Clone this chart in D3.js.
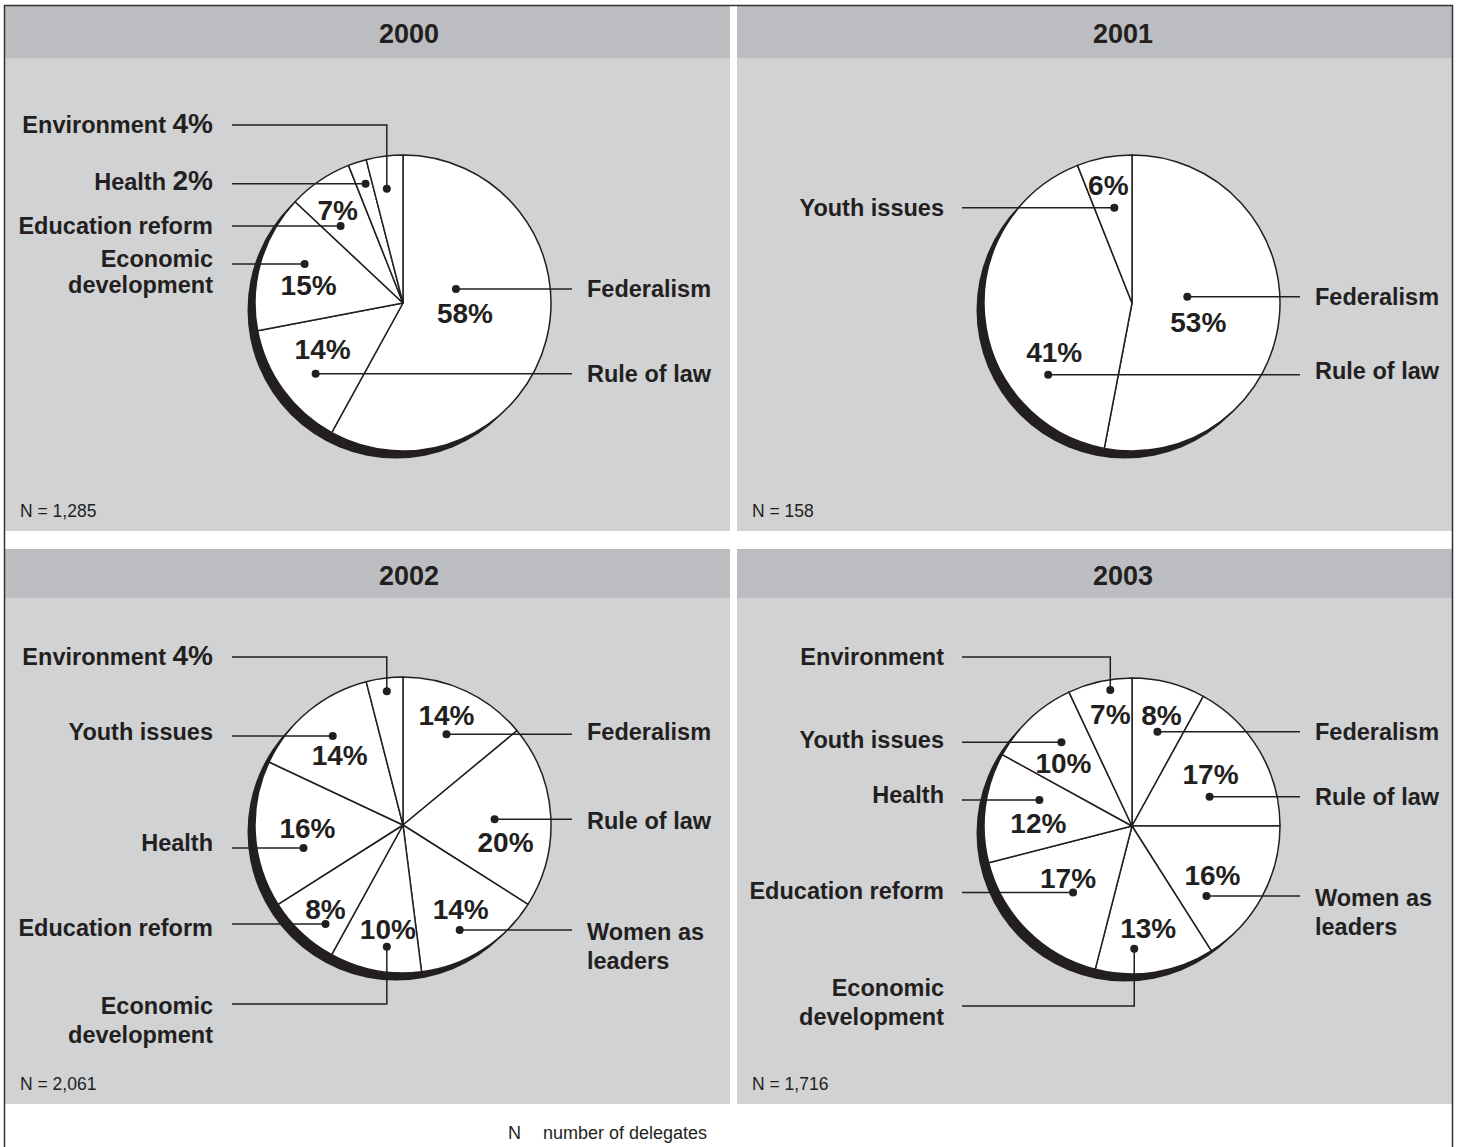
<!DOCTYPE html>
<html>
<head>
<meta charset="utf-8">
<script src="https://cdn.jsdelivr.net/npm/d3@7"></script>
<style>
  body { margin: 0; background: #fff; }
  svg { display: block; }
</style>
</head>
<body>
<div id="chart"></div>
<script>
// data
const years = ["2000", "2001", "2002", "2003"]
const sampleSizes = ["1,285", "158", "2,061", "1,716"]

const categories2000 = ["Federalism", "Rule of law", "Economic development", "Education reform", "Health", "Environment"]
const values2000 = [58, 14, 15, 7, 2, 4]

const categories2001 = ["Federalism", "Rule of law", "Youth issues"]
const values2001 = [53, 41, 6]

const categories2002 = ["Federalism", "Rule of law", "Women as leaders", "Economic development", "Education reform", "Health", "Youth issues", "Environment"]
const values2002 = [14, 20, 14, 10, 8, 16, 14, 4]

const categories2003 = ["Federalism", "Rule of law", "Women as leaders", "Economic development", "Education reform", "Health", "Youth issues", "Environment"]
const values2003 = [8, 17, 16, 13, 17, 12, 10, 7]

const allCategories = [categories2000, categories2001, categories2002, categories2003]
const allValues = [values2000, values2001, values2002, values2003]

// where each label line breaks
const lineBreaks = {
    "Economic development": ["Economic", "development"],
    "Women as leaders": ["Women as", "leaders"]
}

// layout: panels and callouts (t = position along slice, f = fraction of radius,
// pdx/pdy = percent label offset from dot, side = how the leader goes)
const W = 1458, H = 1147
const colX = [5, 737], colW = [725, 715]
const rowY = [6, 549], rowH = [525, 555], headH = [52, 49]
const titleX = [409, 1123]
const rightLineEnd = [572, 1300], rightTextX = [587, 1315]
const leftTextEnd = [213, 944], leftLineStart = [232, 962]
const radius = 148
const pieCenter = [[403, 303], [1132, 303], [403, 825], [1132, 826]]

const callouts = [
    [
        {t: .36, f: .37, pdx: 9, pdy: 24, side: "right"},
        {t: .44, f: .76, pdx: 7, pdy: -25, side: "right"},
        {t: .60, f: .715, pdx: 4, pdy: 21, side: "left", tdy: -5, gap: 26},
        {t: .31, f: .67, pdx: -3, pdy: -16, side: "left"},
        {t: .58, f: .845, side: "left", pctInLabel: true, tdy: -2},
        {t: .44, f: .78, side: "elbow", ly: 125, pctInLabel: true}
    ],
    [
        {t: .438, f: .376, pdx: 11, pdy: 25, side: "right"},
        {t: .262, f: .745, pdx: 6, pdy: -23, side: "right", tdy: -4},
        {t: .514, f: .655, pdx: -6, pdy: -23, side: "left"}
    ],
    [
        {t: .508, f: .68, pdx: 0, pdy: -19, side: "right", tdy: -2},
        {t: .50, f: .62, pdx: 11, pdy: 23, side: "right", tdy: 2},
        {t: .58, f: .806, pdx: 1, pdy: -21, side: "right", tdy: 2, gap: 29},
        {t: .41, f: .83, pdx: 1, pdy: -18, side: "elbow", ly: 1004, tdy: 2, gap: 29},
        {t: .32, f: .85, pdx: 0, pdy: -15, side: "left", tdy: 4},
        {t: .337, f: .69, pdx: 4, pdy: -20, side: "left", tdy: -5},
        {t: .526, f: .766, pdx: 7, pdy: 19, side: "left", tdy: -4},
        {t: .52, f: .91, side: "elbow", ly: 657, pctInLabel: true}
    ],
    [
        {t: .524, f: .66, pdx: 4, pdy: -17, side: "right"},
        {t: .663, f: .56, pdx: 1, pdy: -23, side: "right"},
        {t: .75, f: .69, pdx: 6, pdy: -21, side: "right", tdy: 2, gap: 29},
        {t: .67, f: .83, pdx: 14, pdy: -21, side: "elbow", ly: 1006, tdy: -18, gap: 29},
        {t: .444, f: .60, pdx: -5, pdy: -15, side: "left", tdy: -2},
        {t: .697, f: .65, pdx: -1, pdy: 23, side: "left", tdy: -5},
        {t: .586, f: .74, pdx: 2, pdy: 21, side: "left", tdy: -2},
        {t: .64, f: .93, pdx: 0, pdy: 24, side: "elbow", ly: 657}
    ]
]

const ink = "#231f20"
const headFill = "#bcbdc0"
const bodyFill = "#d1d2d4"
const labelFont = 23.5, pctFont = 28

const svg = d3.select("#chart").append("svg")
    .attr("width", W)
    .attr("height", H)
    .style("font-family", "'Liberation Sans', Arial, Helvetica, sans-serif")

const pie = d3.pie().sort(null).value(d => d)
const arc = d3.arc().innerRadius(0).outerRadius(radius)

function polar(a, r) {
    return [r * Math.sin(a), -r * Math.cos(a)]
}

years.forEach((year, i) => {
    let col = i % 2, row = Math.floor(i / 2)
    let px = colX[col], py = rowY[row]
    let g = svg.append("g")

    g.append("rect")
        .attr("x", px).attr("y", py)
        .attr("width", colW[col]).attr("height", rowH[row])
        .attr("fill", bodyFill)
    g.append("rect")
        .attr("x", px).attr("y", py)
        .attr("width", colW[col]).attr("height", headH[row])
        .attr("fill", headFill)
    g.append("text")
        .attr("x", titleX[col])
        .attr("y", py + headH[row] / 2 + 3 + 0.35 * 24)
        .attr("text-anchor", "middle")
        .attr("font-family", "'Liberation Sans Narrow', 'Liberation Sans', sans-serif")
        .attr("font-weight", "bold")
        .attr("font-size", 27)
        .attr("fill", ink)
        .text(year)

    g.append("text")
        .attr("x", px + 15)
        .attr("y", py + rowH[row] - 14)
        .attr("font-size", 17.5)
        .attr("fill", ink)
        .text("N = " + sampleSizes[i])

    let [cx, cy] = pieCenter[i]
    let arcs = pie(allValues[i])
    let cats = allCategories[i]

    let pieG = g.append("g").attr("transform", `translate(${cx},${cy})`)
    // shadow crescent
    pieG.append("circle")
        .attr("cx", -7).attr("cy", 7)
        .attr("r", radius + 0.5)
        .attr("fill", ink)
    pieG.selectAll("path.slice")
        .data(arcs)
        .join("path")
        .attr("class", "slice")
        .attr("d", arc)
        .attr("fill", "#fff")
        .attr("stroke", ink)
        .attr("stroke-width", 1.5)
        .attr("stroke-linejoin", "round")

    // callouts
    arcs.forEach((a, j) => {
        let c = callouts[i][j]
        let ang = a.startAngle + c.t * (a.endAngle - a.startAngle)
        let [dx, dy] = polar(ang, c.f * radius)
        let x = cx + dx, y = cy + dy
        let pct = a.data + "%"
        let lines = lineBreaks[cats[j]] || [cats[j]]
        let gap = c.gap || 29
        let tdy = c.tdy || 0

        let pts, tx, anchor, lineY
        if (c.side === "right") {
            pts = [[x, y], [rightLineEnd[col], y]]
            tx = rightTextX[col]; anchor = "start"; lineY = y
        } else if (c.side === "left") {
            pts = [[x, y], [leftLineStart[col], y]]
            tx = leftTextEnd[col]; anchor = "end"; lineY = y
        } else {
            pts = [[x, y], [x, c.ly], [leftLineStart[col], c.ly]]
            tx = leftTextEnd[col]; anchor = "end"; lineY = c.ly
        }

        g.append("path")
            .attr("d", d3.line()(pts))
            .attr("fill", "none")
            .attr("stroke", ink)
            .attr("stroke-width", 1.5)
        g.append("circle")
            .attr("cx", x).attr("cy", y)
            .attr("r", 4)
            .attr("fill", ink)

        let label = g.append("text")
            .attr("text-anchor", anchor)
            .attr("font-weight", "bold")
            .attr("font-size", labelFont)
            .attr("fill", ink)
        lines.forEach((ln, k) => {
            let ts = label.append("tspan")
                .attr("x", tx)
                .attr("y", lineY + tdy + k * gap + 0.35 * labelFont)
                .text(ln)
            if (c.pctInLabel && k === lines.length - 1) {
                ts.text(ln + " ")
                label.append("tspan")
                    .attr("font-size", pctFont)
                    .text(pct)
            }
        })

        if (!c.pctInLabel) {
            g.append("text")
                .attr("x", x + c.pdx)
                .attr("y", y + c.pdy + 0.36 * pctFont)
                .attr("text-anchor", "middle")
                .attr("font-weight", "bold")
                .attr("font-size", pctFont)
                .attr("fill", ink)
                .text(pct)
        }
    })
})

// footnote
svg.append("text")
    .attr("x", 508).attr("y", 1133 + 0.35 * 18)
    .attr("font-size", 18)
    .attr("fill", ink)
    .text("N")
svg.append("text")
    .attr("x", 543).attr("y", 1133 + 0.35 * 18)
    .attr("font-size", 18)
    .attr("fill", ink)
    .text("number of delegates")

// outer frame
svg.append("path")
    .attr("d", d3.line()([[4.5, H], [4.5, 5.5], [1452.5, 5.5], [1452.5, H]]))
    .attr("fill", "none")
    .attr("stroke", "#333")
    .attr("stroke-width", 1.5)
</script>
</body>
</html>
